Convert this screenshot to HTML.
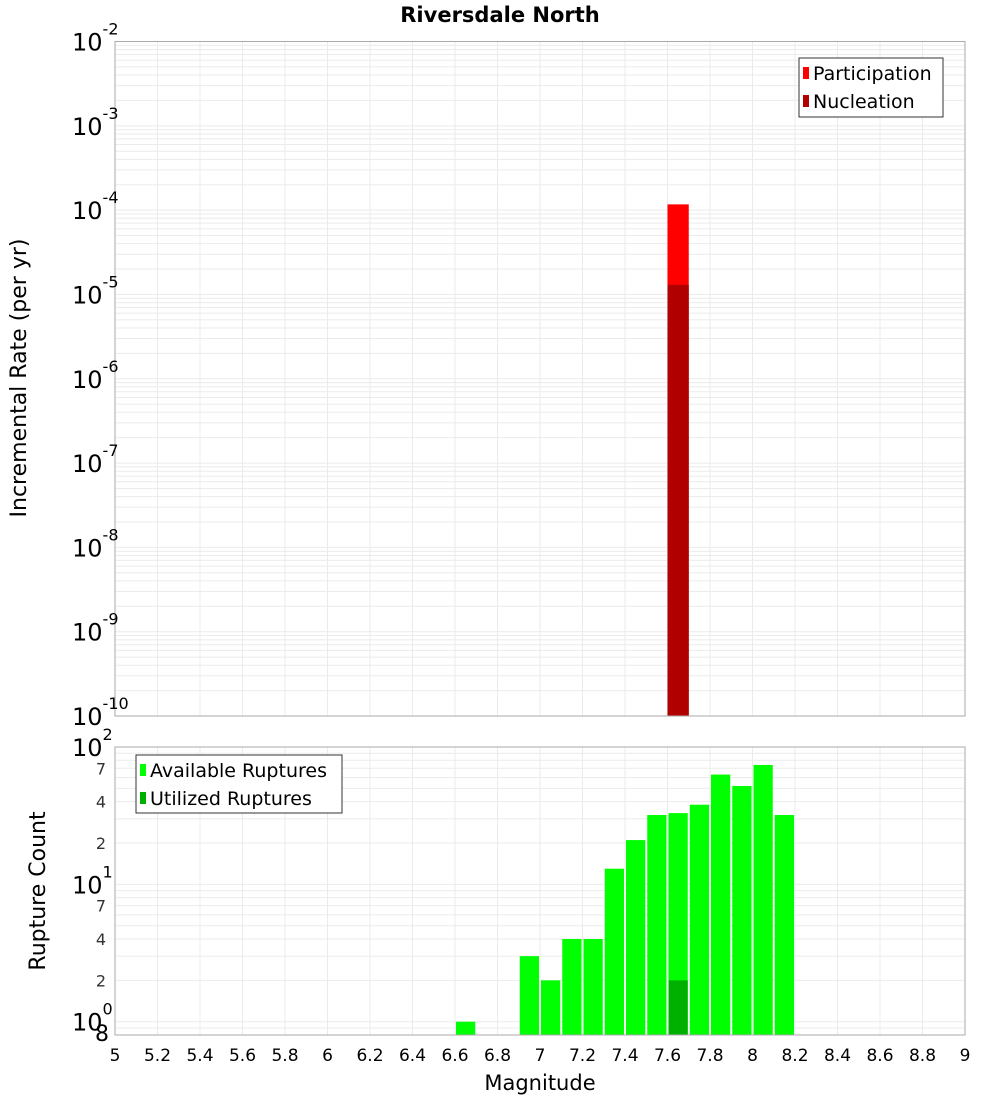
<!DOCTYPE html>
<html><head><meta charset="utf-8"><style>
html,body{margin:0;padding:0;background:#fff;}
svg{display:block;font-family:"DejaVu Sans","Liberation Sans",sans-serif;}
</style></head><body>
<svg id="c" width="1000" height="1100" xmlns="http://www.w3.org/2000/svg">
<text x="500" y="22" text-anchor="middle" font-size="21" font-weight="bold">Riversdale North</text>
<text transform="translate(26,378) rotate(-90)" text-anchor="middle" font-size="22">Incremental Rate (per yr)</text>
<text transform="translate(45,891) rotate(-90)" text-anchor="middle" font-size="22">Rupture Count</text>
<text x="540" y="1090" text-anchor="middle" font-size="21">Magnitude</text>
<g id="gtop"></g><g id="gbot"></g>
<g>
<rect x="799" y="58" width="144" height="59" fill="#fff" stroke="#333"/>
<rect x="803" y="67" width="6" height="12" fill="#ff0000"/><text x="813" y="80" font-size="19">Participation</text>
<rect x="803" y="95" width="6" height="12" fill="#b00000"/><text x="813" y="108" font-size="19">Nucleation</text>
</g>
<g>
<rect x="136" y="755" width="206" height="58" fill="#fff" stroke="#333"/>
<rect x="140" y="764" width="6" height="12" fill="#00ff00"/><text x="150" y="777" font-size="19">Available Ruptures</text>
<rect x="140" y="792" width="6" height="12" fill="#00b000"/><text x="150" y="805" font-size="19">Utilized Ruptures</text>
</g>
</svg>
<script>
const mags=[6.65,6.95,7.05,7.15,7.25,7.35,7.45,7.55,7.65,7.75,7.85,7.95,8.05,8.15];
const available=[1,3,2,4,4,13,21,32,33,38,63,52,74,32];
const utilizedMags=[7.65];
const utilized=[2];
const rateMags=[7.65];
const participation=[1.17e-4];
const nucleation=[1.3e-5];
const xTicks=[5,5.2,5.4,5.6,5.8,6,6.2,6.4,6.6,6.8,7,7.2,7.4,7.6,7.8,8,8.2,8.4,8.6,8.8,9];
const NS="http://www.w3.org/2000/svg";
const L=115,R=965;
const X=m=>L+(m-5)/4*(R-L);
const T1=41.5,B1=716,yT=v=>B1-(Math.log10(v)+10)/8*(B1-T1);
const T2=747,B2=1035,yB=v=>B2-(Math.log10(v)-Math.log10(0.8))/Math.log10(125)*(B2-T2);
function mk(p,tag,a,txt){const e=document.createElementNS(NS,tag);for(const k in a)e.setAttribute(k,a[k]);if(txt!=null)e.textContent=txt;p.appendChild(e);return e;}
const gTop=document.getElementById('gtop'),gBot=document.getElementById('gbot');
for(let d=-10;d<-2;d++)for(let k=1;k<10;k++){const y=yT(k*Math.pow(10,d));const l=mk(gTop,'line',{x1:L,x2:R,y1:y,y2:y,stroke:'#ebebeb'});

}
for(let d=-1;d<2;d++)for(let k=1;k<10;k++){const v=k*Math.pow(10,d);if(v<0.8||v>100)continue;const y=yB(v);const l=mk(gBot,'line',{x1:L,x2:R,y1:y,y2:y,stroke:'#ebebeb'});

}
xTicks.forEach(t=>{const x=X(t);
const a=mk(gTop,'line',{x1:x,x2:x,y1:T1,y2:B1,stroke:'#ebebeb'});


const b=mk(gBot,'line',{x1:x,x2:x,y1:T2,y2:B2,stroke:'#ebebeb'});


const tx=mk(gBot,'text',{x:x,y:1061,'text-anchor':'middle','font-size':17},String(t));

});
rateMags.forEach((m,i)=>{
const p=mk(gTop,'rect',{x:X(m-0.05),y:yT(participation[i]),width:X(m+0.05)-X(m-0.05),height:B1-yT(participation[i]),fill:'#ff0000'});


const n=mk(gTop,'rect',{x:X(m-0.05),y:yT(nucleation[i]),width:X(m+0.05)-X(m-0.05),height:B1-yT(nucleation[i]),fill:'#b00000'});

});
mags.forEach((m,i)=>{const y=yB(available[i]);
const r=mk(gBot,'rect',{x:X(m-0.05)+1,y:y,width:X(m+0.05)-X(m-0.05)-2,height:B2-y,fill:'#00ff00'});

});
utilizedMags.forEach((m,i)=>{const y=yB(utilized[i]);
const r=mk(gBot,'rect',{x:X(m-0.05)+1,y:y,width:X(m+0.05)-X(m-0.05)-2,height:B2-y,fill:'#00b000'});

});
const f1=mk(gTop,'rect',{x:L,y:T1,width:R-L,height:B1-T1,fill:'none',stroke:'#aaa'});


const f2=mk(gBot,'rect',{x:L,y:T2,width:R-L,height:B2-T2,fill:'none',stroke:'#aaa'});


for(let d=-10;d<=-2;d++){const y=yT(Math.pow(10,d));
const t=mk(gTop,'text',{x:72,y:y+9,'font-size':24});


t.textContent='10';mk(t,'tspan',{dy:-16,'font-size':16},String(d));}
[[0,1],[1,10],[2,100]].forEach(([e,v])=>{const y=yB(v);
const t=mk(gBot,'text',{x:72,y:y+9,'font-size':24});


t.textContent='10';mk(t,'tspan',{dy:-16,'font-size':16},String(e));});
[2,4,7,20,40,70].forEach(v=>{const y=yB(v);
const t=mk(gBot,'text',{x:106,y:y+6,'font-size':16,'text-anchor':'end',fill:'#333'},String(v%10===0?v/10:v));

});
const e8=mk(gBot,'text',{x:102,y:1041,'font-size':22,'text-anchor':'middle'},'8');


</script>
</body></html>
